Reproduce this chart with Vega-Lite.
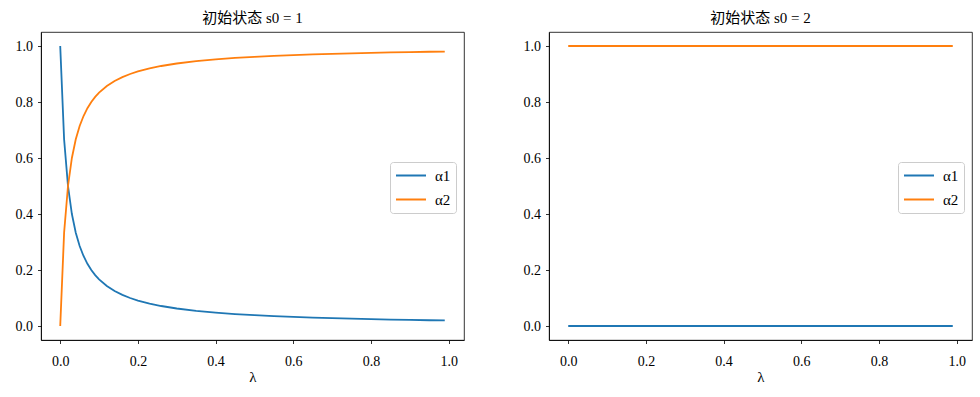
{
  "$schema": "https://vega.github.io/schema/vega-lite/v6.json",
  "background": "white",
  "padding": {"left": 14, "top": 10, "right": 5, "bottom": 5},
  "datasets": {
    "s1": [
      {"lam": 0, "a1": 1, "a2": 0},
      {"lam": 0.01, "a1": 0.6667, "a2": 0.3333},
      {"lam": 0.02, "a1": 0.5, "a2": 0.5},
      {"lam": 0.03, "a1": 0.4, "a2": 0.6},
      {"lam": 0.04, "a1": 0.3333, "a2": 0.6667},
      {"lam": 0.05, "a1": 0.2857, "a2": 0.7143},
      {"lam": 0.06, "a1": 0.25, "a2": 0.75},
      {"lam": 0.07, "a1": 0.2222, "a2": 0.7778},
      {"lam": 0.08, "a1": 0.2, "a2": 0.8},
      {"lam": 0.09, "a1": 0.1818, "a2": 0.8182},
      {"lam": 0.1, "a1": 0.1667, "a2": 0.8333},
      {"lam": 0.12, "a1": 0.1429, "a2": 0.8571},
      {"lam": 0.14, "a1": 0.125, "a2": 0.875},
      {"lam": 0.16, "a1": 0.1111, "a2": 0.8889},
      {"lam": 0.18, "a1": 0.1, "a2": 0.9},
      {"lam": 0.2, "a1": 0.0909, "a2": 0.9091},
      {"lam": 0.23, "a1": 0.08, "a2": 0.92},
      {"lam": 0.26, "a1": 0.0714, "a2": 0.9286},
      {"lam": 0.3, "a1": 0.0625, "a2": 0.9375},
      {"lam": 0.35, "a1": 0.0541, "a2": 0.9459},
      {"lam": 0.4, "a1": 0.0476, "a2": 0.9524},
      {"lam": 0.45, "a1": 0.0426, "a2": 0.9574},
      {"lam": 0.5, "a1": 0.0385, "a2": 0.9615},
      {"lam": 0.55, "a1": 0.0351, "a2": 0.9649},
      {"lam": 0.6, "a1": 0.0323, "a2": 0.9677},
      {"lam": 0.65, "a1": 0.0299, "a2": 0.9701},
      {"lam": 0.7, "a1": 0.0278, "a2": 0.9722},
      {"lam": 0.75, "a1": 0.026, "a2": 0.974},
      {"lam": 0.8, "a1": 0.0244, "a2": 0.9756},
      {"lam": 0.85, "a1": 0.023, "a2": 0.977},
      {"lam": 0.9, "a1": 0.0217, "a2": 0.9783},
      {"lam": 0.95, "a1": 0.0206, "a2": 0.9794},
      {"lam": 0.99, "a1": 0.0198, "a2": 0.9802}
    ],
    "s2": [
      {"lam": 0, "a1": 0, "a2": 1},
      {"lam": 0.1, "a1": 0, "a2": 1},
      {"lam": 0.2, "a1": 0, "a2": 1},
      {"lam": 0.3, "a1": 0, "a2": 1},
      {"lam": 0.4, "a1": 0, "a2": 1},
      {"lam": 0.5, "a1": 0, "a2": 1},
      {"lam": 0.6, "a1": 0, "a2": 1},
      {"lam": 0.7, "a1": 0, "a2": 1},
      {"lam": 0.8, "a1": 0, "a2": 1},
      {"lam": 0.9, "a1": 0, "a2": 1},
      {"lam": 0.99, "a1": 0, "a2": 1}
    ]
  },
  "config": {
    "font": "Liberation Serif, serif",
    "view": {"stroke": "black", "strokeWidth": 0.8},
    "axis": {
      "domainColor": "black", "domainWidth": 0.8,
      "tickColor": "black", "tickWidth": 0.8, "tickSize": 3.5,
      "labelColor": "black", "labelFont": "Liberation Serif, serif", "labelFontSize": 14, "labelPadding": 5,
      "titleColor": "black", "titleFont": "Liberation Serif, serif", "titleFontSize": 15, "titleFontWeight": "normal",
      "grid": false
    },
    "axisX": {"labelPadding": 11},
    "title": {"font": "Liberation Serif, Noto Sans CJK SC, serif", "fontSize": 15, "fontWeight": "normal", "color": "black", "offset": 6},
    "legend": {
      "orient": "none", "legendX": 349, "legendY": 130,
      "strokeColor": "#cccccc", "fillColor": "white", "cornerRadius": 3, "padding": 5,
      "symbolType": "M-1,0H3", "symbolSize": 225, "symbolStrokeWidth": 2,
      "labelFont": "Liberation Serif, serif", "labelFontSize": 15, "labelColor": "black", "labelOffset": 23,
      "rowPadding": 7, "title": null
    },
    "concat": {"spacing": 85}
  },
  "bounds": "flush",
  "resolve": {"scale": {"color": "independent"}, "legend": {"color": "independent"}},
  "hconcat": [
    {
      "title": "初始状态 s0 = 1",
      "width": 423, "height": 308,
      "data": {"name": "s1"},
      "transform": [{"fold": ["a1", "a2"], "as": ["series", "value"]}],
      "mark": {"type": "line", "strokeWidth": 1.8},
      "encoding": {
        "x": {"field": "lam", "type": "quantitative", "title": "λ",
              "scale": {"domain": [-0.0495, 1.0395], "nice": false, "zero": false},
              "axis": {"values": [0, 0.2, 0.4, 0.6, 0.8, 1.0], "format": ".1f", "titlePadding": 1}},
        "y": {"field": "value", "type": "quantitative", "title": null,
              "scale": {"domain": [-0.05, 1.05], "nice": false, "zero": false},
              "axis": {"values": [0, 0.2, 0.4, 0.6, 0.8, 1.0], "format": ".1f"}},
        "color": {"field": "series", "type": "nominal",
                  "scale": {"domain": ["a1", "a2"], "range": ["#1f77b4", "#ff7f0e"]},
                  "legend": {"labelExpr": "datum.value == 'a1' ? 'α1' : 'α2'"}}
      }
    },
    {
      "title": "初始状态 s0 = 2",
      "width": 423, "height": 308,
      "data": {"name": "s2"},
      "transform": [{"fold": ["a1", "a2"], "as": ["series", "value"]}],
      "mark": {"type": "line", "strokeWidth": 1.8},
      "encoding": {
        "x": {"field": "lam", "type": "quantitative", "title": "λ",
              "scale": {"domain": [-0.0495, 1.0395], "nice": false, "zero": false},
              "axis": {"values": [0, 0.2, 0.4, 0.6, 0.8, 1.0], "format": ".1f", "titlePadding": 1}},
        "y": {"field": "value", "type": "quantitative", "title": null,
              "scale": {"domain": [-0.05, 1.05], "nice": false, "zero": false},
              "axis": {"values": [0, 0.2, 0.4, 0.6, 0.8, 1.0], "format": ".1f"}},
        "color": {"field": "series", "type": "nominal",
                  "scale": {"domain": ["a1", "a2"], "range": ["#1f77b4", "#ff7f0e"]},
                  "legend": {"labelExpr": "datum.value == 'a1' ? 'α1' : 'α2'"}}
      }
    }
  ]
}
